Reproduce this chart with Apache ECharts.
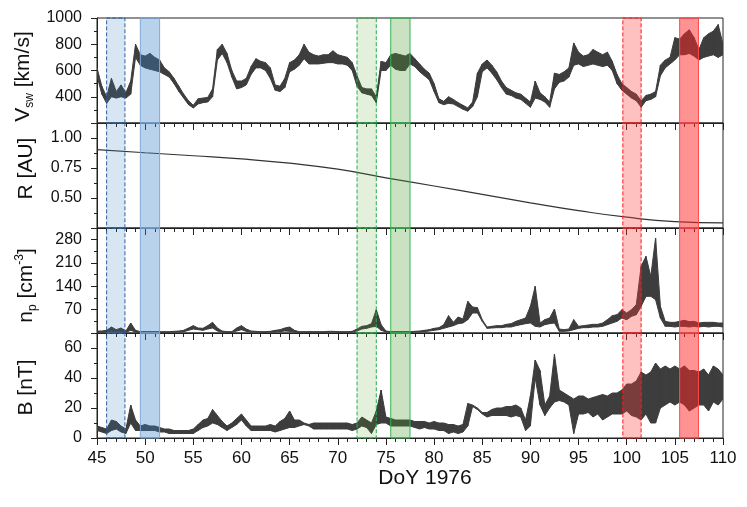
<!DOCTYPE html>
<html>
<head>
<meta charset="utf-8">
<script src="https://cdn.jsdelivr.net/npm/echarts/dist/echarts.min.js"></script>
<style>
  html, body { margin: 0; padding: 0; background: #fff; }
  #chart { width: 747px; height: 507px; }
</style>
</head>
<body>
<div id="chart"></div>
<script>
// sample grid: DoY 45 .. 110, every half day
const days = [];
for (let d = 45; d <= 110; d += 0.5) days.push(d);

// solar wind speed, lower / upper edge of the trace [km/s]
const vswLo = [
  560, 420, 350, 400, 390, 400, 390, 420, 700, 640,
  620, 610, 600, 590, 570, 550, 500, 440, 390, 340,
  315, 345, 355, 360, 400, 680, 730, 660, 550, 460,
  470, 490, 570, 620, 620, 600, 540, 450, 440, 470,
  590, 610, 640, 690, 650, 650, 650, 655, 660, 660,
  650, 650, 640, 600, 480, 430, 420, 410, 355, 600,
  600, 640, 610, 600, 600, 650, 630, 590, 560, 530,
  440, 355, 340, 350, 345, 325, 305, 290, 325, 400,
  590, 620, 580, 530, 470, 420, 410, 390, 380, 350,
  320, 390, 380, 360, 320, 460, 510, 520, 550, 640,
  650, 630, 640, 650, 640, 630, 640, 600, 500, 450,
  420, 390, 370, 320, 370, 380, 400, 560, 620, 650,
  680, 720, 720, 730, 710, 680, 700, 710, 720, 700,
  720
];
const vswHi = [
  620, 480, 400, 540, 440, 490, 430, 520, 800, 720,
  710, 730, 700, 680, 620, 590, 540, 480, 420, 370,
  335, 385, 390, 395, 460, 760, 800, 730, 600, 520,
  520, 540, 630, 690, 670, 660, 620, 490, 480, 540,
  660, 680, 720, 800, 740, 720, 710, 720, 720, 750,
  720, 710, 700, 660, 560, 470, 460, 460, 400, 670,
  660, 720, 730, 720, 710, 730, 690, 650, 610, 580,
  500, 385, 365, 400, 380, 355, 335, 315, 360, 580,
  650, 680, 640, 590, 520, 470, 450, 430, 420, 390,
  360, 520, 430, 400, 360, 580, 570, 590, 620, 810,
  740, 710, 720, 760, 740, 720, 740, 670, 570, 500,
  470, 440, 420, 370, 410, 420, 440, 640, 680, 700,
  850, 840, 880, 910, 850, 760, 850, 880, 900, 950,
  800
];

// heliocentric distance [AU]
const rDays = [45, 50, 55, 60, 65, 70, 75, 80, 85, 90, 95, 100, 105, 110];
const rVals = [0.903, 0.877, 0.852, 0.826, 0.79, 0.74, 0.668, 0.60, 0.53, 0.46, 0.395, 0.34, 0.303, 0.292];

// proton density, lower / upper edge [cm^-3]
const npLo = [
  3, 3, 3, 5, 4, 4, 2, 8, 3, 2,
  2, 2, 2, 2, 2, 2, 3, 3, 4, 8,
  12, 10, 8, 12, 15, 6, 3, 2, 2, 6,
  10, 5, 3, 3, 2, 2, 3, 3, 4, 6,
  5, 3, 2, 2, 2, 2, 2, 2, 3, 3,
  2, 2, 2, 3, 6, 12, 14, 18, 20, 8,
  3, 2, 2, 2, 2, 2, 3, 3, 4, 6,
  8, 10, 14, 18, 22, 28, 30, 40, 60, 60,
  35, 14, 15, 16, 16, 18, 18, 22, 25, 28,
  30, 20, 18, 25, 28, 30, 5, 5, 6, 10,
  14, 16, 16, 18, 18, 20, 25, 30, 35, 45,
  40, 50, 55, 80, 110, 110, 100, 45, 20, 20,
  18, 20, 20, 18, 20, 18, 20, 18, 20, 20,
  18
];
const npHi = [
  6, 6, 8, 18, 10, 15, 6, 30, 8, 4,
  4, 4, 4, 4, 4, 4, 5, 6, 8, 15,
  22, 15, 14, 22, 32, 15, 6, 4, 4, 15,
  22, 12, 6, 5, 4, 4, 5, 8, 10, 15,
  18, 8, 4, 4, 4, 4, 4, 4, 5, 5,
  4, 4, 4, 5, 12, 20, 22, 28, 70, 25,
  6, 4, 4, 4, 4, 4, 5, 6, 8, 10,
  14, 16, 25, 52, 32, 48, 42, 95, 78, 76,
  40, 18, 20, 22, 22, 26, 28, 35, 40, 45,
  80, 140, 30, 40, 45, 72, 12, 10, 12, 40,
  20, 22, 24, 26, 26, 30, 40, 52, 55, 70,
  60, 70, 85, 200, 230, 170, 285, 80, 35, 32,
  32, 35, 38, 34, 35, 30, 32, 32, 32, 30,
  30
];

// magnetic field magnitude, lower / upper edge [nT]
const bLo = [
  5, 4, 3, 5, 6, 4, 3, 10, 5, 5,
  5, 5, 5, 4, 4, 3, 3, 3, 3, 3,
  3, 5, 7, 8, 10, 9, 7, 5, 7, 9,
  12, 8, 5, 5, 5, 5, 5, 4, 5, 6,
  7, 7, 8, 9, 8, 6, 6, 6, 6, 6,
  6, 6, 6, 5, 6, 8, 7, 3, 9, 10,
  10, 8, 8, 8, 8, 8, 7, 6, 7, 6,
  6, 5, 5, 3, 4, 3, 4, 8, 21, 19,
  16, 14, 15, 15, 15, 15, 14, 15, 14, 5,
  8, 40, 22, 15, 20, 24, 25, 24, 22, 3,
  16, 16, 17, 14, 16, 12, 14, 16, 16, 16,
  18, 15, 14, 12, 16, 10, 10, 20, 22, 24,
  22, 24, 22, 18, 20, 22, 22, 18, 24, 22,
  26
];
const bHi = [
  8, 7, 6, 12, 11, 8, 6, 22, 12, 8,
  9, 8, 8, 7, 6, 6, 5, 5, 5, 5,
  6, 9, 12, 13, 19, 15, 11, 8, 10, 13,
  16, 12, 8, 8, 8, 8, 9, 8, 11, 13,
  18, 12, 12, 10, 9, 10, 10, 10, 10, 10,
  10, 10, 10, 9, 10, 14, 12, 10, 18, 32,
  14, 13, 12, 12, 12, 12, 11, 11, 11, 10,
  11, 10, 10, 9, 9, 8, 9, 23, 22, 20,
  17, 17, 19, 20, 20, 21, 21, 22, 20, 12,
  28, 52, 45, 22, 28, 56, 32, 30, 28, 26,
  28, 28, 26, 27, 28, 29, 28, 30, 30, 32,
  36, 36, 38, 44, 42, 44, 50, 46, 48, 46,
  48, 46, 48, 45, 45, 44, 46, 42, 48, 46,
  42
];

// highlighted intervals
const bandStart = [46, 49.5, 72, 75.5, 99.6, 105.5];
const bandEnd = [47.9, 51.5, 74, 77.5, 101.5, 107.45];
const bandFill = ['rgba(60,130,200,0.2)', 'rgba(60,130,200,0.36)', 'rgba(90,170,50,0.17)',
                  'rgba(80,160,50,0.3)', 'rgba(255,60,60,0.32)', 'rgba(255,40,40,0.5)'];
const bandLine = ['#2f5f98', '#7faad6', '#22b04a', '#35b556', '#ff1a1a', '#ff4a4a'];
const bandDash = ['dashed', 'solid', 'dashed', 'solid', 'dashed', 'solid'];

const FONT = '"Liberation Sans", Arial, sans-serif';
const INK = '#222';
const TRACE = '#3d3d3d';
const tops = [18, 123, 228, 333];

const rich = {
  m: { fontSize: 21, lineHeight: 25, fontFamily: FONT, color: '#111' },
  s: { fontSize: 12, lineHeight: 13, verticalAlign: 'bottom', fontFamily: FONT, color: '#111' },
  u: { fontSize: 12, lineHeight: 13, verticalAlign: 'top', fontFamily: FONT, color: '#111' }
};

const yCfg = [
  { min: 200, max: 1000, interval: 200, name: '{m|V}{s|sw}{m| [km/s]}', showMin: false, showMax: true, dec: 0, pad: [0, 12, 0, 0] },
  { min: 0.25, max: 1.125, interval: 0.25, name: '{m|R [AU]}', showMin: false, showMax: false, dec: 2, pad: [0, 0, 0, 14] },
  { min: 0, max: 315, interval: 70, name: '{m|n}{s|p}{m| [cm}{u|-3}{m|]}', showMin: false, showMax: false, dec: 0, pad: [0, 10, 0, 0] },
  { min: 0, max: 70, interval: 20, name: '{m|B [nT]}', showMin: true, showMax: false, dec: 0, pad: [0, 4, 0, 0] }
];

const grid = tops.map(t => ({
  left: 97, right: 24, top: t, height: 105,
  show: true, borderColor: INK, borderWidth: 1, backgroundColor: 'transparent'
}));

const xAxis = tops.map((t, i) => ({
  type: 'value', gridIndex: i, min: 45, max: 110, interval: 5,
  axisLine: { show: true, onZero: false, lineStyle: { color: INK, width: 1 } },
  axisTick: { show: true, inside: false, length: 7, lineStyle: { color: INK, width: 1 } },
  minorTick: { show: true, splitNumber: 5, length: 4, lineStyle: { color: INK, width: 1 } },
  splitLine: { show: false },
  minorSplitLine: { show: false },
  axisLabel: { show: i === 3, fontSize: 17, color: '#111', fontFamily: FONT, margin: 12 },
  name: i === 3 ? 'DoY 1976' : '',
  nameLocation: 'middle',
  nameGap: 30,
  nameTextStyle: { fontSize: 21, color: '#111', fontFamily: FONT, padding: [0, 0, 0, 30] }
}));

const yAxis = yCfg.map((c, i) => ({
  type: 'value', gridIndex: i, min: c.min, max: c.max, interval: c.interval,
  axisLine: { show: true, onZero: false, lineStyle: { color: INK, width: 1 } },
  axisTick: { show: true, inside: false, length: 6, lineStyle: { color: INK, width: 1 } },
  minorTick: { show: true, splitNumber: 2, length: 3, lineStyle: { color: INK, width: 1 } },
  splitLine: { show: false },
  minorSplitLine: { show: false },
  axisLabel: {
    fontSize: 16, color: '#111', fontFamily: FONT, margin: 15,
    showMinLabel: c.showMin, showMaxLabel: c.showMax,
    formatter: v => v.toFixed(c.dec)
  },
  name: c.name,
  nameLocation: 'middle',
  nameRotate: 90,
  nameGap: 58,
  nameTextStyle: { rich: rich, padding: c.pad }
}));

// filled trace between lower and upper edge, one quad per sample step
function band(lo, hi, i) {
  return {
    type: 'custom', xAxisIndex: i, yAxisIndex: i, clip: true, silent: true, z: 2,
    data: days.map((d, k) => [d, lo[k], hi[k]]),
    encode: { x: 0, y: [1, 2] },
    renderItem: (params, api) => {
      const k = params.dataIndex;
      if (k >= days.length - 1) return null;
      const pts = [
        api.coord([days[k], lo[k]]),
        api.coord([days[k + 1], lo[k + 1]]),
        api.coord([days[k + 1], hi[k + 1]]),
        api.coord([days[k], hi[k]])
      ];
      return {
        type: 'polygon',
        shape: { points: pts },
        style: { fill: TRACE, stroke: TRACE, lineWidth: 1 }
      };
    }
  };
}

const marks = bandStart.map((s, k) => [
  { xAxis: s, itemStyle: { color: bandFill[k], borderColor: bandLine[k], borderWidth: 1, borderType: bandDash[k] } },
  { xAxis: bandEnd[k] }
]);

const series = [
  band(vswLo, vswHi, 0),
  {
    type: 'line', xAxisIndex: 1, yAxisIndex: 1, smooth: true,
    symbol: 'none', silent: true,
    lineStyle: { color: '#333', width: 1.2 },
    data: rDays.map((d, k) => [d, rVals[k]])
  },
  band(npLo, npHi, 2),
  band(bLo, bHi, 3)
];

tops.forEach((t, i) => {
  series.push({
    type: 'line', xAxisIndex: i, yAxisIndex: i, data: [], z: 5,
    markArea: { silent: true, z: 5, label: { show: false }, data: marks }
  });
});

const chart = echarts.init(document.getElementById('chart'), null, { renderer: 'canvas' });
chart.setOption({
  animation: false,
  backgroundColor: '#fff',
  grid: grid,
  xAxis: xAxis,
  yAxis: yAxis,
  series: series
});
</script>
</body>
</html>
